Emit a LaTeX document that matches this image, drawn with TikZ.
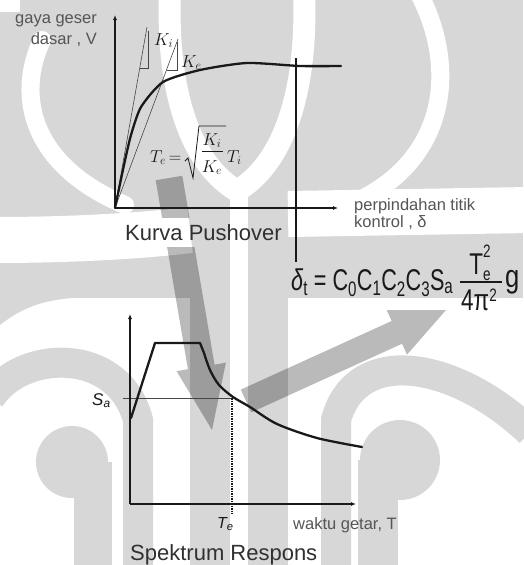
\documentclass[tikz,border=0pt]{standalone}
\usepackage[no-math]{fontspec}
\setmainfont{Liberation Sans}
\usepackage{graphicx}
\usetikzlibrary{arrows.meta,calc}
\definecolor{wm}{RGB}{215,215,215}
\definecolor{ink}{RGB}{25,25,25}
\definecolor{lbl}{RGB}{85,85,85}
\begin{document}
\begin{tikzpicture}[x=1pt,y=-1pt,
  axisline/.style={draw=ink, line width=1.1pt, -{Latex[length=5pt,width=4pt]}},
  curveline/.style={draw=ink, line width=2.3pt, line join=round, line cap=round},
  thinline/.style={draw=ink!80, line width=0.6pt},
  smalllbl/.style={text=lbl, font=\fontsize{16.5}{19}\selectfont, inner sep=0pt},
  titlelbl/.style={text=ink!90, font=\fontsize{22}{26}\selectfont, inner sep=0pt},
  bigf/.style={text=ink, font=\fontsize{30}{34}\selectfont, inner sep=0pt},
  mathlbl/.style={text=ink, font=\fontsize{17}{20}\selectfont, inner sep=0pt},
  formlbl/.style={text=ink, font=\fontsize{18}{21}\selectfont, inner sep=0pt},
  bigarrow/.style={fill=black, fill opacity=0.27},
  wmgap/.style={draw=white, line width=#1},
  wmbar/.style={draw=wm, line width=#1}]
\useasboundingbox (0,0) rectangle (523,565);
\fill[white] (0,0) rectangle (523,565);
% ---------- watermark ----------
\fill[wm] (0,0) rectangle (523,298);
\fill[wm] (0,297) -- (0,325) .. controls (25,305) and (50,298) .. (90,297) -- cycle;
\fill[wm] (190,290) rectangle (230,565);
\fill[wm] (248,290) rectangle (288,565);
\fill[white] (0,0) rectangle (20,12);
\draw[wmgap=18, line cap=round] (42,40) .. controls (16,95) and (30,165) .. (125,205);
\draw[wmgap=18] (417,-10) .. controls (456,60) and (454,160) .. (349,205);
\draw[wmgap=22] (170,-10) .. controls (166,90) and (190,165) .. (239,192);
\draw[wmgap=22] (304,-10) .. controls (308,90) and (284,165) .. (235,192);
\draw[wmgap=18] (239,185) -- (239,570);
\draw[wmgap=46] (-5,240) .. controls (80,240) and (150,235) .. (190,230);
\draw[wmgap=46] (288,214) -- (530,210);
\draw[wmbar=30] (-10,398) .. controls (20,350) and (118,345) .. (138,420) -- (138,570);
\draw[wmbar=30] (336,570) -- (336,420) .. controls (356,345) and (454,360) .. (530,432);
\fill[wm] (72,462) circle[radius=36pt];
\fill[wm] (74,462) rectangle (112,570);
\fill[wm] (400,460) circle[radius=40pt];
\fill[wm] (358,460) rectangle (398,570);
% ---------- big arrows ----------
\coordinate (dA) at (169,178);
\coordinate (dB) at (212,430);
\coordinate (dH) at ($(dB)!64pt!(dA)$);
\coordinate (rA) at (246,401);
\coordinate (rB) at (446,310);
\coordinate (rH) at ($(rB)!54pt!(rA)$);
\begin{scope}
\clip (0,0) rectangle (523,217);
\fill[bigarrow] ($(dA)!13.5pt!90:(dB)$) -- ($(dH)!13.5pt!-90:(dA)$) -- ($(dH)!25pt!-90:(dA)$) -- (dB)
  -- ($(dH)!25pt!90:(dA)$) -- ($(dH)!13.5pt!90:(dA)$) -- ($(dA)!13.5pt!-90:(dB)$) -- cycle;
\end{scope}
\begin{scope}
\clip (0,247) rectangle (523,565);
\fill[bigarrow] ($(dA)!13.5pt!90:(dB)$) -- ($(dH)!13.5pt!-90:(dA)$) -- ($(dH)!25pt!-90:(dA)$) -- (dB)
  -- ($(dH)!25pt!90:(dA)$) -- ($(dH)!13.5pt!90:(dA)$) -- ($(dA)!13.5pt!-90:(dB)$) -- cycle;
\end{scope}
\fill[bigarrow] ($(rA)!12.5pt!90:(rB)$) -- ($(rH)!12.5pt!-90:(rA)$) -- ($(rH)!24.5pt!-90:(rA)$) -- (rB)
  -- ($(rH)!24.5pt!90:(rA)$) -- ($(rH)!12.5pt!90:(rA)$) -- ($(rA)!12.5pt!-90:(rB)$) -- cycle;
% ---------- pushover chart ----------
\coordinate (O1) at (115,208);
\coordinate (Y1) at (115,15);
\coordinate (X1) at (338,208);
\coordinate (Ki) at (147,27);
\coordinate (Ke) at (178,39);
\draw[thinline] (O1) -- (Ki);
\draw[thinline] (O1) -- (Ke);
\draw[thinline] (140,68) -- (148,68) -- (148,31);
\draw[thinline] (166.5,70) -- (177,70) -- (177,42);
\draw[curveline] plot[smooth, tension=0.4] coordinates {(115,208) (124,165) (131,135) (141,107) (163,82) (200,70) (247,63) (300,66) (341,66)};
\draw[axisline] (O1) -- (Y1);
\draw[axisline] (O1) -- (X1);
\coordinate (vt) at (296,58);
\coordinate (vb) at (296,262);
\draw[ink, line width=1.4pt] (vt) -- (vb);
\node[mathlbl, anchor=base west] (kilab) at (154,45) {$K_i$};
\node[mathlbl, anchor=base west] (kelab) at (181,67) {$K_e$};
% T_e formula, built from parts
\node[formlbl, anchor=base west] (tel) at (150,162) {$T_e$};
\node[formlbl, anchor=base] (teq) at (175,162) {$=$};
\node[formlbl, anchor=base] (tki) at (212,145) {$K_i$};
\node[formlbl, anchor=base] (tke) at (212,172) {$K_e$};
\node[formlbl, anchor=base west] (tti) at (227,162) {$T_i$};
\coordinate (fkl) at (202,151);
\coordinate (fkr) at (223,151);
\draw[ink, line width=0.7pt] (fkl) -- (fkr);
\coordinate (rad0) at (185,161);
\coordinate (rad1) at (188,158);
\coordinate (rad2) at (193,178);
\coordinate (rad3) at (199,126);
\coordinate (rad4) at (226,126);
\draw[ink, line width=0.8pt, line join=miter] (rad0) -- (rad1) -- (rad2) -- (rad3) -- (rad4);
\node[smalllbl, anchor=base east] (vlab1) at (97,23) {gaya geser};
\node[smalllbl, anchor=base east] (vlab2) at (97,44) {dasar , V};
\node[smalllbl, anchor=base west] (dlab1) at (354,210) {perpindahan titik};
\node[smalllbl, anchor=base west] (dlab2) at (354,227) {kontrol , δ};
\node[titlelbl, anchor=base west] (ttl1) at (125,240) {Kurva Pushover};
% ---------- big formula ----------
\node[bigf, anchor=base west] (dform) at (291,290) {\scalebox{0.72}[1]{\textit{δ}\textsubscript{t} = C\textsubscript{0}C\textsubscript{1}C\textsubscript{2}C\textsubscript{3}S\textsubscript{a}}};
\node[bigf, anchor=base] (fnum) at (480,274) {\scalebox{0.75}[1]{T\rlap{\raisebox{0.55em}{\fontsize{18}{18}\selectfont 2}}\raisebox{-0.2em}{\fontsize{18}{18}\selectfont e}}};
\coordinate (fbl) at (460,282);
\coordinate (fbr) at (502,282);
\draw[ink, line width=1.2pt] (fbl) -- (fbr);
\node[bigf, anchor=base] (fden) at (479,310) {\scalebox{0.75}[1]{4π\raisebox{0.3em}{\fontsize{18}{18}\selectfont 2}}};
\node[bigf, anchor=base west, font=\fontsize{32}{36}\selectfont] (fg) at (505,287) {\scalebox{0.8}[1]{g}};
% ---------- spectrum chart ----------
\coordinate (O2) at (130,504);
\coordinate (Y2) at (130,314);
\coordinate (X2) at (356,504);
\coordinate (saL) at (123,398);
\coordinate (saR) at (232,398);
\coordinate (teB) at (232,514);
\draw[thinline] (saL) -- (saR);
\draw[ink, line width=1.3pt, dash pattern=on 1.5pt off 1pt] (saR) -- (teB);
\draw[curveline] (131,418) -- (155,343) -- (200,343) -- plot[smooth, tension=0.5] coordinates {(204,353) (210,370) (219,385) (233,397) (250,407) (277,424) (317,438) (362,447)};
\draw[axisline] (O2) -- (Y2);
\draw[axisline] (O2) -- (X2);
\node[text=ink, font=\fontsize{17}{20}\selectfont\itshape, inner sep=0pt, anchor=base west] (salab) at (92,405) {S\textsubscript{a}};
\node[text=ink, font=\fontsize{16}{19}\selectfont\itshape, inner sep=0pt, anchor=base west] (telab) at (217,528) {T\textsubscript{e}};
\node[smalllbl, anchor=base west] (tlab) at (293,529) {waktu getar, T};
\node[titlelbl, anchor=base west] (ttl2) at (130,560) {Spektrum Respons};
\end{tikzpicture}
\end{document}
